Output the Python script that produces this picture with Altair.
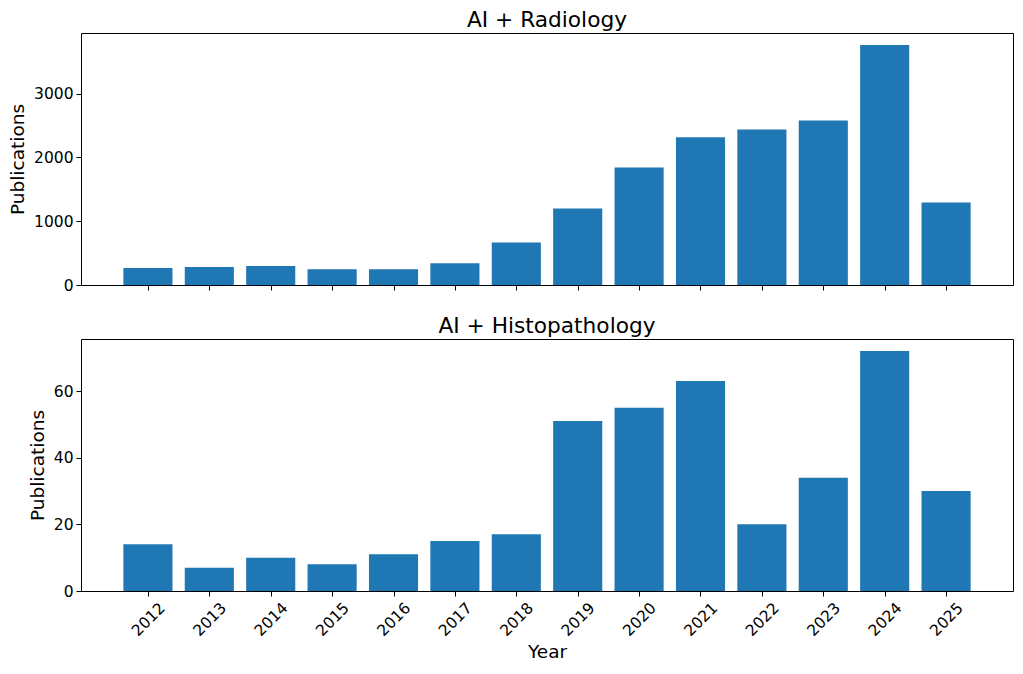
import altair as alt
import pandas as pd

years = [2012, 2013, 2014, 2015, 2016, 2017, 2018, 2019, 2020, 2021, 2022, 2023, 2024, 2025]
radiology = [266, 281, 297, 245, 245, 339, 667, 1198, 1839, 2313, 2438, 2578, 3760, 1292]
histopathology = [14, 7, 10, 8, 11, 15, 17, 51, 55, 63, 20, 34, 72, 30]

FONT = "DejaVu Sans"
BLUE = "#1f77b4"
XDOM = [2010.91, 2026.09]


def panel(values, title, ymax, yticks, show_labels):
    df = pd.DataFrame({"year": years, "count": values})
    df["x0"] = df["year"] - 0.4
    df["x1"] = df["year"] + 0.4
    xaxis = alt.Axis(
        values=years,
        format="d",
        labels=show_labels,
        title="Year" if show_labels else None,
        grid=False,
        domain=False,
        ticks=True,
        tickSize=5,
        tickColor="#000",
        labelAngle=-45,
        labelAlign="center",
        labelBaseline="middle",
        labelPadding=23,
        labelFontSize=15.5,
        labelFont=FONT,
        labelColor="#000",
        titleFont=FONT,
        titleFontSize=18.5,
        titleFontWeight="normal",
        titleColor="#000",
        titlePadding=4,
    )
    yaxis = alt.Axis(
        values=yticks,
        format="d",
        title="Publications",
        grid=False,
        domain=False,
        tickSize=5,
        tickColor="#000",
        labelFontSize=15.5,
        labelFont=FONT,
        labelColor="#000",
        labelPadding=3,
        titleFont=FONT,
        titleFontSize=18.5,
        titleFontWeight="normal",
        titleColor="#000",
        titlePadding=6,
    )
    return (
        alt.Chart(df)
        .mark_bar(color=BLUE)
        .encode(
            x=alt.X("x0:Q", scale=alt.Scale(domain=XDOM, nice=False, zero=False), axis=xaxis),
            x2="x1:Q",
            y=alt.Y("count:Q", scale=alt.Scale(domain=[0, ymax], nice=False), axis=yaxis),
            y2=alt.datum(0),
        )
        .properties(
            width=932,
            height=252,
            title=alt.TitleParams(
                title, font=FONT, fontSize=21.7, fontWeight="normal", color="#000",
                offset=-2, dy=-3
            ),
        )
    )


top = panel(radiology, "AI + Radiology", 3948, [0, 1000, 2000, 3000], False)
bottom = panel(histopathology, "AI + Histopathology", 75.6, [0, 20, 40, 60], True)

chart = (
    alt.vconcat(top, bottom, spacing=21)
    .configure_view(stroke="#000", strokeWidth=1)
    .properties(padding={"left": 0, "top": 1, "right": 0, "bottom": 0})
)

chart.save("out.html", embed_options={"renderer": "svg", "actions": False})
